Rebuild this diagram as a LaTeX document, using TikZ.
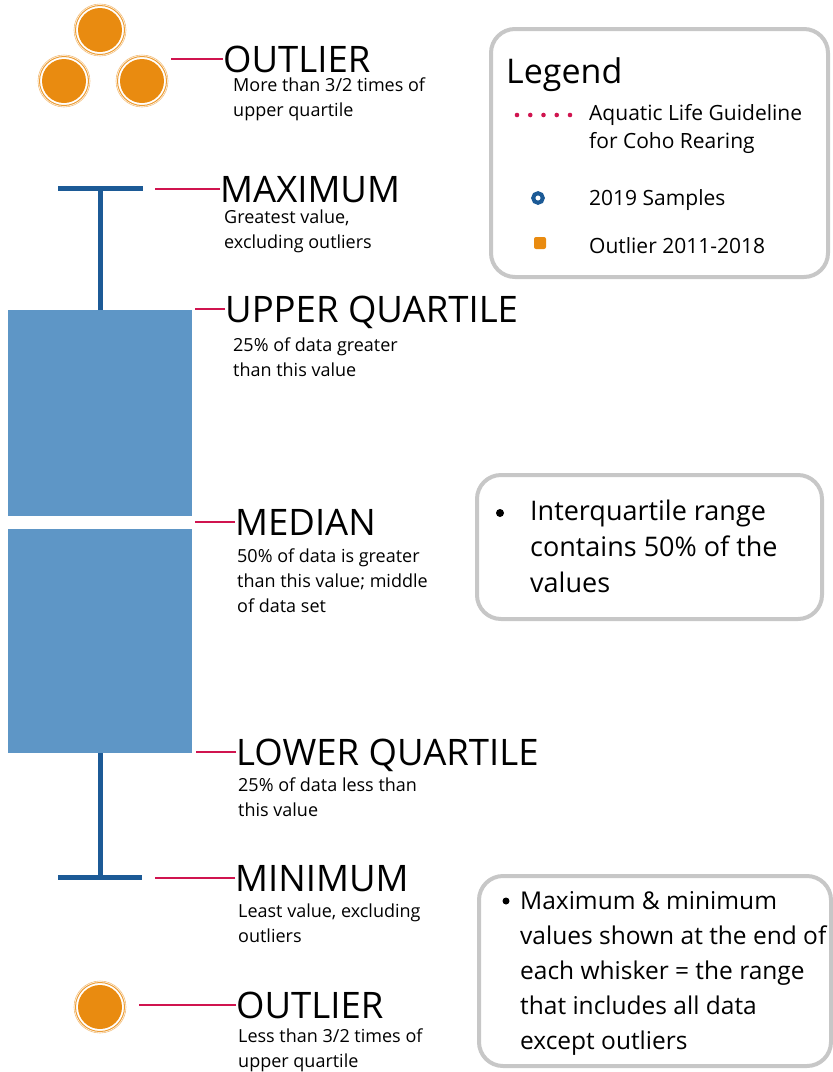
\documentclass[tikz,border=0pt]{standalone}
\usepackage{fontspec}
\setmainfont{Open Sans}
\usepackage{xcolor}
\usepackage{tikz}
\usetikzlibrary{calc}
\usetikzlibrary{positioning}

\definecolor{boxblue}{RGB}{94,150,198}
\definecolor{whiskblue}{RGB}{28,90,150}
\definecolor{leadred}{RGB}{208,20,79}
\definecolor{dotorange}{RGB}{233,139,16}

\begin{document}
\begin{tikzpicture}[x=1pt, y=-1pt,
  title/.style={inner sep=0pt, anchor=base west, text depth=0pt, font=\fontsize{36.5}{40}\selectfont},
  sub/.style={inner sep=0pt, anchor=north west, align=left, font=\fontsize{18}{25}\selectfont},
  lead/.style={draw=leadred, line width=2pt},
  whisker/.style={draw=whiskblue, line width=5pt},
  boxpart/.style={rectangle, fill=boxblue, inner sep=0pt, anchor=north west, minimum width=184pt},
  panel/.style={rectangle, rounded corners=24pt, draw=black!22, line width=4pt, inner sep=0pt, anchor=north west},
  outlier/.style={circle, fill=dotorange, minimum size=44pt, inner sep=0pt}]
\useasboundingbox (0,0) rectangle (833,1072);

\node [outlier] (o1) at (100,30) {};
\node [outlier] (o2) at (64,81) {};
\node [outlier] (o3) at (142,81) {};
\node [outlier] (o4) at (100,1007) {};
\draw [dotorange!85, line width=1pt] (o1) circle (24.5) (o2) circle (24.5) (o3) circle (24.5) (o4) circle (24.5);
\draw [dotorange!55, line width=0.6pt] (o1) circle (26) (o2) circle (26) (o3) circle (26) (o4) circle (26);

\node [boxpart, minimum height=206pt] (boxUp) at (8,310) {};
\node [boxpart, minimum height=224pt] (boxLow) at (8,529) {};
\coordinate (maxL) at (58,188);
\coordinate (maxR) at (143,188);
\coordinate (minL) at (58,877);
\coordinate (minR) at (142,877);
\draw [whisker] (maxL) -- (maxR);
\draw [whisker] (boxUp.north) -- (boxUp.north |- maxL);
\draw [whisker] (minL) -- (minR);
\draw [whisker] (boxLow.south) -- (boxLow.south |- minL);

\node [title] (tOutTop) at (223,72) {OUTLIER};
\node [title] (tMax) at (220,202) {MAXIMUM};
\node [title] (tUpper) at (225,322) {UPPER QUARTILE};
\node [title] (tMedian) at (235,535) {MEDIAN};
\node [title] (tLower) at (236,765) {LOWER QUARTILE};
\node [title] (tMin) at (235,891) {MINIMUM};
\node [title] (tOutBot) at (236,1018) {OUTLIER};

\draw [lead] (tOutTop.west) -- ++(-52,0);
\draw [lead] (tMax.west) -- ++(-65,0);
\draw [lead] (tUpper.west) -- ++(-30,0);
\draw [lead] (tMedian.west) -- ++(-40,0);
\draw [lead] (tLower.west) -- ++(-40,0);
\draw [lead] (tMin.west) -- ++(-80,0);
\draw [lead] (tOutBot.west) -- ++(-97,0);

\node [sub] (sOutTop) at (233,78) {More than 3/2 times of\\upper quartile};
\node [sub] (sMax) at (224,210) {Greatest value,\\excluding outliers};
\node [sub] (sUpper) at (233,338) {25\% of data greater\\than this value};
\node [sub] (sMedian) at (237,549) {50\% of data is greater\\than this value; middle\\of data set};
\node [sub] (sLower) at (238,778) {25\% of data less than\\this value};
\node [sub] (sMin) at (238,904) {Least value, excluding\\outliers};
\node [sub] (sOutBot) at (238,1029) {Less than 3/2 times of\\upper quartile};

\node [panel, minimum width=337pt, minimum height=248pt] (legend) at (489,27) {};
\node [inner sep=0pt, anchor=base west, font=\fontsize{34}{38}\selectfont] (legTitle) at (506,83) {Legend};
\foreach \i in {0,...,4}
  \fill [leadred] (517+13.25*\i,115) circle (2.3);
\node [inner sep=0pt, anchor=north west, align=left, font=\fontsize{21}{28}\selectfont] (legGuide) at (589,104) {Aquatic Life Guideline\\for Coho Rearing};
\draw [whiskblue, line width=4pt] (538,198) circle (4.8);
\node [inner sep=0pt, anchor=base west, font=\fontsize{21}{28}\selectfont] (legSamples) at (589,205) {2019 Samples};
\fill [dotorange, rounded corners=2pt] (534,237) rectangle (546,249);
\node [inner sep=0pt, anchor=base west, font=\fontsize{21}{28}\selectfont] (legOutlier) at (589,253) {Outlier 2011-2018};

\node [panel, minimum width=345pt, minimum height=144pt] (iqrNote) at (475,473) {};
\fill (500,513) circle (4);
\node [inner sep=0pt, anchor=north west, align=left, font=\fontsize{27}{36}\selectfont] (iqrText) at (530,500) {Interquartile range\\contains 50\% of the\\values};

\node [panel, minimum width=352pt, minimum height=190pt] (rangeNote) at (477,874) {};
\fill (506,901) circle (3.5);
\node [inner sep=0pt, anchor=north west, align=left, font=\fontsize{24.5}{35}\selectfont] (rangeText) at (520,891) {Maximum \& minimum\\values shown at the end of\\each whisker = the range\\that includes all data\\except outliers};
\end{tikzpicture}
\end{document}
